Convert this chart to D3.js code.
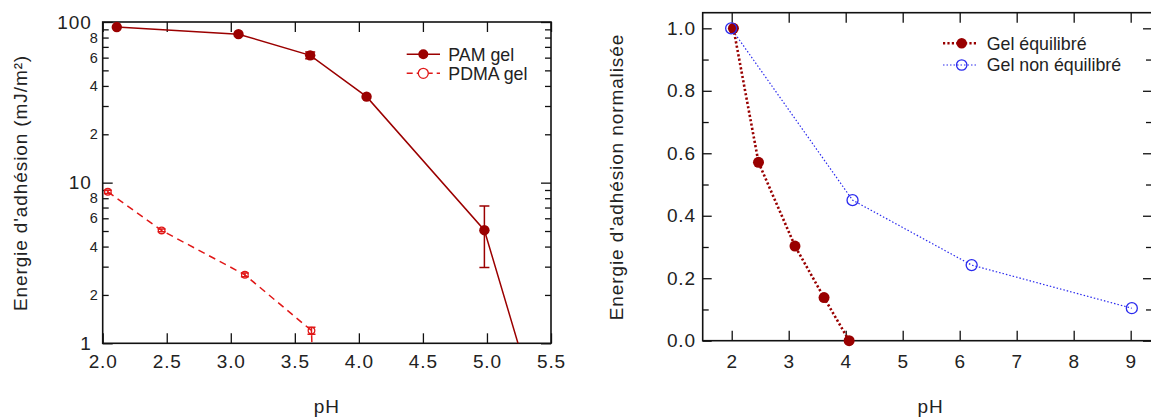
<!DOCTYPE html>
<html>
<head>
<meta charset="utf-8">
<script src="https://cdn.jsdelivr.net/npm/d3@7"></script>
<style>
  html, body { margin: 0; padding: 0; background: #fff; }
  svg { display: block; }
  text { font-family: "Liberation Sans", Arial, sans-serif; fill: #222; }
</style>
</head>
<body>
<svg id="chart" width="1151" height="417"></svg>
<script>
// ---------- data: left panel (log scale) ----------
const pamPH   = [2.11, 3.06, 3.62, 4.06, 4.98, 5.3];
const pamE    = [93, 84, 62, 34.3, 5.06, 0.7];
const pamErr  = [0, 0, 3, 0, 2.1, 0];
const pdmaPH  = [2.04, 2.46, 3.11, 3.63, 3.645];
const pdmaE   = [8.77, 5.04, 2.67, 1.2, 0.5];
const pdmaErr = [0.2, 0.1, 0.07, 0.06, 0];
const leftXTicks = [2.0, 2.5, 3.0, 3.5, 4.0, 4.5, 5.0, 5.5];
const leftYMajor = [1, 10, 100];
const leftYMinor = [2,3,4,5,6,7,8,9,20,30,40,50,60,70,80,90];
const leftYMinorLabeled = [2,4,6,8,20,40,60,80];
const leftSeries = ["PAM gel", "PDMA gel"];

// ---------- data: right panel ----------
const eqPH   = [2.03, 2.47, 3.11, 3.62, 4.06];
const eqE    = [1.0, 0.571, 0.303, 0.138, 0.0];
const neqPH  = [1.99, 4.12, 6.21, 9.02];
const neqE   = [1.0, 0.45, 0.242, 0.104];
const rightXTicks = [2, 3, 4, 5, 6, 7, 8, 9];
const rightYMajor = [0.0, 0.2, 0.4, 0.6, 0.8, 1.0];
const rightYMinor = [0.1, 0.3, 0.5, 0.7, 0.9];
const rightSeries = ["Gel équilibré", "Gel non équilibré"];

const C_PAM = "#9b0000", C_PDMA = "#e01818", C_EQ = "#990000", C_NEQ = "#2a2aee";
const FS = 19;

const svg = d3.select("#chart");
const defs = svg.append("defs");

function styleAxis(g, fs, ls) {
  g.select(".domain").remove();
  g.selectAll(".tick line").attr("stroke", "#111").attr("stroke-width", 1.3);
  g.selectAll(".tick text").style("font-size", fs + "px").style("letter-spacing", ls + "px").attr("fill", "#222");
}

// ================= LEFT PANEL =================
(function () {
  const L = 102.7, R = 551, T = 22, B = 343.3;
  const x = d3.scaleLinear().domain([2.0, 5.5]).range([L, R]);
  const y = d3.scaleLog().domain([1, 100]).range([B, T]);
  const g = svg.append("g");

  defs.append("clipPath").attr("id", "clipL").append("rect")
    .attr("x", L).attr("y", T - 6).attr("width", R - L).attr("height", B - T + 6);

  // axes
  const ax = g.append("g").attr("transform", `translate(0,${B})`)
    .call(d3.axisBottom(x).tickValues(leftXTicks).tickFormat(d3.format(".1f")).tickSize(-10).tickPadding(11.5));
  styleAxis(ax, FS, 0.9);
  const axT = g.append("g").attr("transform", `translate(0,${T})`)
    .call(d3.axisTop(x).tickValues(leftXTicks).tickFormat("").tickSize(-10));
  styleAxis(axT, FS, 0);

  const ayM = g.append("g").attr("transform", `translate(${L},0)`)
    .call(d3.axisLeft(y).tickValues(leftYMajor).tickFormat(d3.format("d")).tickSize(-10).tickPadding(11));
  styleAxis(ayM, FS, 0.9);
  const aym = g.append("g").attr("transform", `translate(${L},0)`)
    .call(d3.axisLeft(y).tickValues(leftYMinor)
      .tickFormat(d => leftYMinorLabeled.includes(d) ? String(d >= 10 ? d / 10 : d) : "")
      .tickSize(-6).tickPadding(4.5));
  styleAxis(aym, 14.5, 0.3);

  const ayR = g.append("g").attr("transform", `translate(${R},0)`)
    .call(d3.axisRight(y).tickValues(leftYMajor).tickFormat("").tickSize(-10));
  styleAxis(ayR, FS, 0);
  const ayRm = g.append("g").attr("transform", `translate(${R},0)`)
    .call(d3.axisRight(y).tickValues(leftYMinor).tickFormat("").tickSize(-6));
  styleAxis(ayRm, FS, 0);

  // frame
  g.append("rect").attr("x", L).attr("y", T).attr("width", R - L).attr("height", B - T)
    .attr("fill", "none").attr("stroke", "#111").attr("stroke-width", 1.6);

  // data
  const dg = g.append("g").attr("clip-path", "url(#clipL)");
  const pam = pamPH.map((p, i) => ({ x: p, y: pamE[i], e: pamErr[i] }));
  const pdma = pdmaPH.map((p, i) => ({ x: p, y: pdmaE[i], e: pdmaErr[i] }));
  const line = d3.line().x(d => x(d.x)).y(d => y(d.y));

  dg.append("path").datum(pam).attr("d", line).attr("fill", "none")
    .attr("stroke", C_PAM).attr("stroke-width", 1.5);
  dg.append("path").datum(pdma).attr("d", line).attr("fill", "none")
    .attr("stroke", C_PDMA).attr("stroke-width", 1.5).attr("stroke-dasharray", "7,5");

  function errBars(data, color, cap) {
    data.filter(d => d.e > 0).forEach(d => {
      const y1 = y(d.y + d.e), y2 = y(Math.max(d.y - d.e, 1e-3)), cx = x(d.x);
      dg.append("line").attr("x1", cx).attr("x2", cx).attr("y1", y1).attr("y2", y2)
        .attr("stroke", color).attr("stroke-width", 1.5);
      [y1, y2].forEach(yy => dg.append("line").attr("x1", cx - cap).attr("x2", cx + cap)
        .attr("y1", yy).attr("y2", yy).attr("stroke", color).attr("stroke-width", 1.5));
    });
  }
  errBars(pam, C_PAM, 5);
  errBars(pdma, C_PDMA, 4);

  dg.selectAll("circle.pam").data(pam).enter().append("circle")
    .attr("cx", d => x(d.x)).attr("cy", d => y(d.y)).attr("r", 5.2).attr("fill", C_PAM);
  dg.selectAll("circle.pdma").data(pdma).enter().append("circle")
    .attr("cx", d => x(d.x)).attr("cy", d => y(d.y)).attr("r", 3.3)
    .attr("fill", "none").attr("stroke", C_PDMA).attr("stroke-width", 1.3);

  // legend
  const lg = g.append("g");
  const lx1 = 406.7, lx2 = 440, lm = 423.3, lt = 448.3;
  [54.3, 73.3].forEach((ly, i) => {
    lg.append("line").attr("x1", lx1).attr("x2", lx2).attr("y1", ly).attr("y2", ly)
      .attr("stroke", i === 0 ? C_PAM : C_PDMA).attr("stroke-width", 1.5)
      .attr("stroke-dasharray", i === 0 ? null : "6,4");
    lg.append("circle").attr("cx", lm).attr("cy", ly).attr("r", 5)
      .attr("fill", i === 0 ? C_PAM : "#fff").attr("stroke", i === 0 ? "none" : C_PDMA).attr("stroke-width", 1.3);
    lg.append("text").attr("x", lt).attr("y", ly).attr("dy", "0.35em")
      .style("font-size", "17.8px").text(leftSeries[i]);
  });

  // titles
  g.append("text").attr("transform", `translate(27,183) rotate(-90)`).attr("text-anchor", "middle")
    .style("font-size", FS + "px").style("letter-spacing", "0.9px").text("Energie d'adhésion (mJ/m²)");
  g.append("text").attr("x", (L + R) / 2).attr("y", 413.3).attr("text-anchor", "middle")
    .style("font-size", FS + "px").style("letter-spacing", "0.9px").text("pH");
})();

// ================= RIGHT PANEL =================
(function () {
  const L = 702.7, R = 1152, T = 12.7, B = 340.7;
  const x = d3.scaleLinear().domain([1.491, 9.374]).range([L, R]);
  const y = d3.scaleLinear().domain([0, 1.05]).range([B, T]);
  const g = svg.append("g");

  const ax = g.append("g").attr("transform", `translate(0,${B})`)
    .call(d3.axisBottom(x).tickValues(rightXTicks).tickFormat(d3.format("d")).tickSize(-10).tickPadding(13.5));
  styleAxis(ax, FS, 0.9);
  const axT = g.append("g").attr("transform", `translate(0,${T})`)
    .call(d3.axisTop(x).tickValues(rightXTicks).tickFormat("").tickSize(-10));
  styleAxis(axT, FS, 0);

  const ayM = g.append("g").attr("transform", `translate(${L},0)`)
    .call(d3.axisLeft(y).tickValues(rightYMajor).tickFormat(d3.format(".1f")).tickSize(-9).tickPadding(6.7));
  styleAxis(ayM, FS, 0.9);
  const aym = g.append("g").attr("transform", `translate(${L},0)`)
    .call(d3.axisLeft(y).tickValues(rightYMinor).tickFormat("").tickSize(-6));
  styleAxis(aym, FS, 0);
  const ayR = g.append("g").attr("transform", `translate(${R},0)`)
    .call(d3.axisRight(y).tickValues(rightYMajor).tickFormat("").tickSize(-9));
  styleAxis(ayR, FS, 0);
  const ayRm = g.append("g").attr("transform", `translate(${R},0)`)
    .call(d3.axisRight(y).tickValues(rightYMinor).tickFormat("").tickSize(-6));
  styleAxis(ayRm, FS, 0);

  g.append("rect").attr("x", L).attr("y", T).attr("width", R - L).attr("height", B - T)
    .attr("fill", "none").attr("stroke", "#111").attr("stroke-width", 1.6);

  const eq = eqPH.map((p, i) => ({ x: p, y: eqE[i] }));
  const neq = neqPH.map((p, i) => ({ x: p, y: neqE[i] }));
  const line = d3.line().x(d => x(d.x)).y(d => y(d.y));

  g.append("path").datum(neq).attr("d", line).attr("fill", "none")
    .attr("stroke", C_NEQ).attr("stroke-width", 1.2).attr("stroke-dasharray", "1.5,2");
  g.append("path").datum(eq).attr("d", line).attr("fill", "none")
    .attr("stroke", C_EQ).attr("stroke-width", 2.6).attr("stroke-dasharray", "2.2,2.2");

  g.selectAll("circle.eq").data(eq).enter().append("circle")
    .attr("cx", d => x(d.x)).attr("cy", d => y(d.y)).attr("r", 5.5).attr("fill", C_EQ);
  g.selectAll("circle.neq").data(neq).enter().append("circle")
    .attr("cx", d => x(d.x)).attr("cy", d => y(d.y)).attr("r", 5.5)
    .attr("fill", "none").attr("stroke", C_NEQ).attr("stroke-width", 1.3);

  const lg = g.append("g");
  const lx1 = 943, lx2 = 978, lm = 961.7, lt = 986.7;
  [43.3, 65].forEach((ly, i) => {
    lg.append("line").attr("x1", lx1).attr("x2", lx2).attr("y1", ly).attr("y2", ly)
      .attr("stroke", i === 0 ? C_EQ : C_NEQ).attr("stroke-width", i === 0 ? 2.6 : 1.2)
      .attr("stroke-dasharray", i === 0 ? "2.2,2.2" : "1.5,2");
    lg.append("circle").attr("cx", lm).attr("cy", ly).attr("r", 5.2)
      .attr("fill", i === 0 ? C_EQ : "none").attr("stroke", i === 0 ? "none" : C_NEQ).attr("stroke-width", 1.3);
    lg.append("text").attr("x", lt).attr("y", ly).attr("dy", "0.35em")
      .style("font-size", "17.8px").text(rightSeries[i]);
  });

  g.append("text").attr("transform", `translate(623.3,177) rotate(-90)`).attr("text-anchor", "middle")
    .style("font-size", FS + "px").style("letter-spacing", "0.9px").text("Energie d'adhésion normalisée");
  g.append("text").attr("x", 930.5).attr("y", 413.3).attr("text-anchor", "middle")
    .style("font-size", FS + "px").style("letter-spacing", "0.9px").text("pH");
})();
</script>
</body>
</html>
